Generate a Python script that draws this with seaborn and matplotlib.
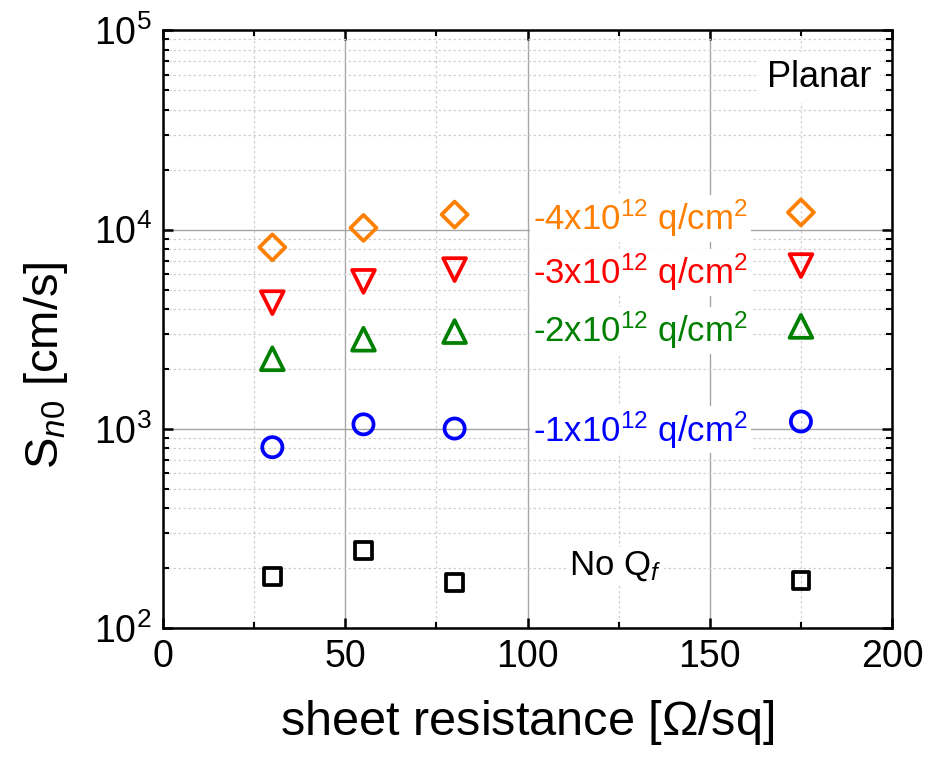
import numpy as np
import pandas as pd
import matplotlib
matplotlib.use("Agg")
import matplotlib.pyplot as plt
import seaborn as sns
from matplotlib.ticker import LogLocator, MultipleLocator, NullFormatter

# ---- data ----
sheet_resistance = [30, 55, 80, 175]
s_qf4 = [8150, 10200, 11900, 12200]   # -4x10^12 q/cm^2
s_qf3 = [4300, 5500, 6300, 6600]      # -3x10^12 q/cm^2
s_qf2 = [2250, 2820, 3080, 3270]      # -2x10^12 q/cm^2
s_qf1 = [810, 1055, 1005, 1090]       # -1x10^12 q/cm^2
s_noqf = [182, 246, 170, 174]         # No Q_f

series_labels = [r"-4x10$^{12}$ q/cm$^2$", r"-3x10$^{12}$ q/cm$^2$",
                 r"-2x10$^{12}$ q/cm$^2$", r"-1x10$^{12}$ q/cm$^2$",
                 r"No Q$_{\mathit{f}}$"]

sns.set_style("ticks")
plt.rcParams['font.family'] = ['Liberation Sans', 'DejaVu Sans']
plt.rcParams['mathtext.fontset'] = 'custom'
plt.rcParams['mathtext.rm'] = 'Liberation Sans'
plt.rcParams['mathtext.it'] = 'Liberation Sans:italic'
plt.rcParams['mathtext.bf'] = 'Liberation Sans:bold'
plt.rcParams['text.color'] = 'black'
plt.rcParams['axes.labelcolor'] = 'black'

fig = plt.figure(figsize=(9.42, 7.57), dpi=100)
ax = fig.add_axes([0.173, 0.170, 0.774, 0.790])

styles = [
    (s_qf4, '#FF8000', 'D', 175),
    (s_qf3, '#FF0000', 'v', 270),
    (s_qf2, '#008000', '^', 270),
    (s_qf1, '#0000FF', 'o', 210),
    (s_noqf, '#000000', 's', 140),
]
for vals, col, mk, sz in styles:
    df = pd.DataFrame({"x": sheet_resistance, "y": vals})
    sns.scatterplot(data=df, x="x", y="y", ax=ax, marker=mk, s=sz,
                    facecolor='none', edgecolor=col, linewidth=2.7, zorder=5)

ax.set_yscale('log')
ax.set_xlim(0, 200)
ax.set_ylim(1e2, 1e5)
ax.xaxis.set_major_locator(MultipleLocator(50))
ax.xaxis.set_minor_locator(MultipleLocator(25))
ax.yaxis.set_major_locator(LogLocator(base=10, numticks=10))
ax.yaxis.set_minor_locator(LogLocator(base=10, subs=np.arange(2, 10), numticks=20))
ax.yaxis.set_minor_formatter(NullFormatter())

ax.grid(True, which='major', color='#a6a6a6', linestyle='-', linewidth=1.0, zorder=0)
ax.grid(True, which='minor', color='#d0d0d0', linestyle=(0, (2, 2)), linewidth=0.9, zorder=0)
ax.set_axisbelow(True)

for sp in ax.spines.values():
    sp.set_linewidth(1.8)
    sp.set_color('black')
    sp.set_visible(True)

ax.tick_params(which='both', direction='in', top=True, right=True, colors='black',
               labelcolor='black')
ax.tick_params(which='major', length=7, width=1.8, labelsize=27, pad=8)
ax.tick_params(which='minor', length=4.5, width=1.5)

ax.set_xlabel(r"sheet resistance [$\Omega$/sq]", fontsize=35, labelpad=16)
ax.set_ylabel(r"S$_{\mathit{n0}}$ [cm/s]", fontsize=34)
ax.yaxis.set_label_coords(-0.127, 0.44)

box = dict(facecolor='white', edgecolor='none', pad=2)
label_pos = [(131, 11400, '#FF8000'), (131, 6100, '#FF0000'),
             (131, 3130, '#008000'), (131, 990, '#0000FF'), (124, 205, '#000000')]
for (lx, ly, lc), txt in zip(label_pos, series_labels):
    ax.text(lx, ly, txt, color=lc, fontsize=25, ha='center', va='center',
            bbox=box, zorder=4)

ax.text(180, 58000, "Planar", fontsize=26, ha='center', va='center', color='black',
        bbox=dict(facecolor='white', edgecolor='none', pad=6), zorder=4)

fig.savefig("out.png", dpi=100)
